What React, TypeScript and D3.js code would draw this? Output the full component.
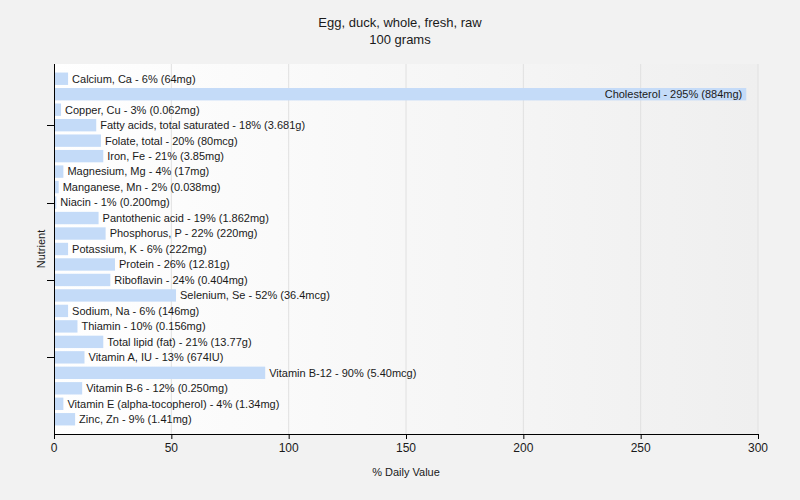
import React from "react";
import * as d3 from "d3";

const categories = [
  "Calcium, Ca", "Cholesterol", "Copper, Cu", "Fatty acids, total saturated", "Folate, total",
  "Iron, Fe", "Magnesium, Mg", "Manganese, Mn", "Niacin", "Pantothenic acid", "Phosphorus, P",
  "Potassium, K", "Protein", "Riboflavin", "Selenium, Se", "Sodium, Na", "Thiamin",
  "Total lipid (fat)", "Vitamin A, IU", "Vitamin B-12", "Vitamin B-6",
  "Vitamin E (alpha-tocopherol)", "Zinc, Zn",
];
const values = [6, 295, 3, 18, 20, 21, 4, 2, 1, 19, 22, 6, 26, 24, 52, 6, 10, 21, 13, 90, 12, 4, 9];
const amounts = [
  "64mg", "884mg", "0.062mg", "3.681g", "80mcg", "3.85mg", "17mg", "0.038mg", "0.200mg",
  "1.862mg", "220mg", "222mg", "12.81g", "0.404mg", "36.4mcg", "146mg", "0.156mg", "13.77g",
  "674IU", "5.40mcg", "0.250mg", "1.34mg", "1.41mg",
];
const xTicks = [0, 50, 100, 150, 200, 250, 300];

const W = 800, H = 500;
const left = 54, right = 758, top = 64, bottom = 434;
const font = "'Liberation Sans', Arial, sans-serif";

export default function App() {
  const x = d3.scaleLinear().domain([0, 300]).range([left, right]);
  const y = d3.scaleBand<string>().domain(categories).range([71, 427]).paddingInner(0.2).paddingOuter(0.1);
  const bw = y.bandwidth();
  return (
    <svg width={W} height={H} style={{ position: "absolute", left: 0, top: 0, background: "#f2f2f2" }}>
      <defs>
        <linearGradient id="bg" x1="0" x2="1" y1="0" y2="0">
          <stop offset="0%" stopColor="#ffffff" />
          <stop offset="100%" stopColor="#efefef" />
        </linearGradient>
      </defs>
      <rect x={0} y={0} width={W} height={H} fill="#f2f2f2" />
      <rect x={left} y={top} width={right - left} height={bottom - top} fill="url(#bg)" />
      {xTicks.slice(1).map((t) => (
        <line key={t} x1={x(t)} x2={x(t)} y1={top} y2={bottom} stroke="#e0e0e0" strokeWidth={1} />
      ))}
      {categories.map((c, i) => {
        const yc = (y(c) as number) + bw / 2;
        const label = `${c} - ${values[i]}% (${amounts[i]})`;
        const inside = values[i] > 200;
        return (
          <g key={c}>
            <rect x={x(0)} y={y(c)} width={x(values[i]) - x(0)} height={bw} fill="#c4dbf8" />
            <text
              x={inside ? x(values[i]) - 4 : x(values[i]) + 4}
              y={yc}
              dy="0.35em"
              textAnchor={inside ? "end" : "start"}
              fontFamily={font}
              fontSize={11}
              fill="#1a1a1a"
            >
              {label}
            </text>
          </g>
        );
      })}
      <line x1={left + 0.5} x2={left + 0.5} y1={top} y2={bottom} stroke="#000" />
      <line x1={left} x2={right} y1={bottom + 0.5} y2={bottom + 0.5} stroke="#000" />
      {categories.map((c, i) =>
        i % 5 === 3 ? (
          <line key={c} x1={left - 7} x2={left} y1={Math.round((y(c) as number) + bw / 2) + 0.5} y2={Math.round((y(c) as number) + bw / 2) + 0.5} stroke="#000" />
        ) : null
      )}
      {xTicks.map((t) => (
        <g key={t}>
          <line x1={x(t) + 0.5} x2={x(t) + 0.5} y1={bottom} y2={bottom + 5} stroke="#000" />
          <text x={x(t)} y={bottom + 18} textAnchor="middle" fontFamily={font} fontSize={12} fill="#1a1a1a">
            {t}
          </text>
        </g>
      ))}
      <text x={400} y={27} textAnchor="middle" fontFamily={font} fontSize={13} fill="#1a1a1a">
        Egg, duck, whole, fresh, raw
      </text>
      <text x={400} y={44} textAnchor="middle" fontFamily={font} fontSize={13} fill="#1a1a1a">
        100 grams
      </text>
      <text x={406} y={476} textAnchor="middle" fontFamily={font} fontSize={11} fill="#1a1a1a">
        % Daily Value
      </text>
      <text transform="translate(45,249) rotate(-90)" textAnchor="middle" fontFamily={font} fontSize={11} fill="#1a1a1a">
        Nutrient
      </text>
    </svg>
  );
}
